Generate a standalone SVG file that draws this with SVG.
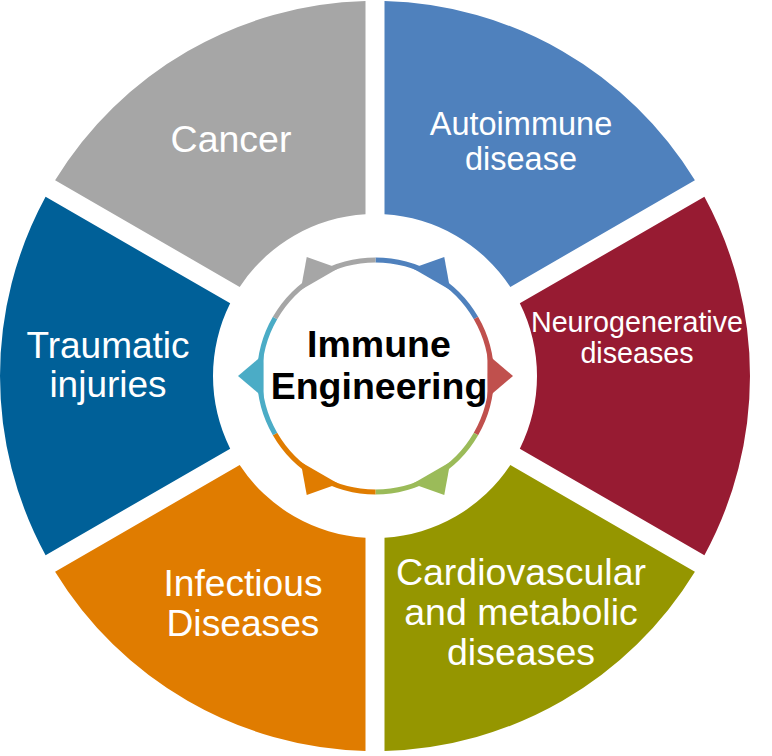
<svg xmlns="http://www.w3.org/2000/svg" width="772" height="756" viewBox="0 0 772 756">
<style>
.lbl{font-family:"Liberation Sans",Arial,sans-serif;fill:#ffffff;text-anchor:middle}
.ctr{font-family:"Liberation Sans",Arial,sans-serif;fill:#000000;font-weight:bold;text-anchor:middle;font-size:37.5px}
.ring{fill:none;stroke-width:5}
</style>
<rect width="772" height="756" fill="#ffffff"/>
<g id="autoimmune">
<path d="M384.5,1.12 A375,375 0 0 1 694.9,180.32 L510.31,286.9 A162,162 0 0 0 384.5,214.28 Z" fill="#4F81BD"/>
<text class="lbl" font-size="32.5" x="521" y="135">Autoimmune</text>
<text class="lbl" font-size="32.5" x="521" y="170">disease</text>
</g>
<g id="neurogenerative">
<path d="M704.4,196.79 A375,375 0 0 1 704.4,555.21 L519.81,448.63 A162,162 0 0 0 519.81,303.37 Z" fill="#971B32"/>
<text class="lbl" font-size="28.7" x="637" y="332">Neurogenerative</text>
<text class="lbl" font-size="28.7" x="637" y="363">diseases</text>
</g>
<g id="cardiovascular">
<path d="M694.9,571.68 A375,375 0 0 1 384.5,750.88 L384.5,537.72 A162,162 0 0 0 510.31,465.1 Z" fill="#959600"/>
<text class="lbl" font-size="37.5" x="521" y="585">Cardiovascular</text>
<text class="lbl" font-size="37.5" x="521" y="625">and metabolic</text>
<text class="lbl" font-size="37.5" x="521" y="665">diseases</text>
</g>
<g id="infectious">
<path d="M365.5,750.88 A375,375 0 0 1 55.1,571.68 L239.69,465.1 A162,162 0 0 0 365.5,537.72 Z" fill="#E07C00"/>
<text class="lbl" font-size="37.2" x="243" y="596">Infectious</text>
<text class="lbl" font-size="37.2" x="243" y="636">Diseases</text>
</g>
<g id="traumatic">
<path d="M45.6,555.21 A375,375 0 0 1 45.6,196.79 L230.19,303.37 A162,162 0 0 0 230.19,448.63 Z" fill="#006098"/>
<text class="lbl" font-size="37" x="108" y="358">Traumatic</text>
<text class="lbl" font-size="37" x="108" y="397">injuries</text>
</g>
<g id="cancer">
<path d="M55.1,180.32 A375,375 0 0 1 365.5,1.12 L365.5,214.28 A162,162 0 0 0 239.69,286.9 Z" fill="#A6A6A6"/>
<text class="lbl" font-size="37.5" x="231" y="152">Cancer</text>
</g>
<g id="connectors">
<path class="ring" stroke="#4F81BD" d="M375.5,260 A116,116 0 0 1 475.96,318"/>
<polygon fill="#4F81BD" points="444.25,256.92 450.29,289.96 412.62,268.21"/>
<path class="ring" stroke="#C0504D" d="M475.96,318 A116,116 0 0 1 475.96,434"/>
<polygon fill="#C0504D" points="513,376 487.41,397.75 487.41,354.25"/>
<path class="ring" stroke="#9BBB59" d="M475.96,434 A116,116 0 0 1 375.5,492"/>
<polygon fill="#9BBB59" points="444.25,495.08 412.62,483.79 450.29,462.04"/>
<path class="ring" stroke="#E07C00" d="M375.5,492 A116,116 0 0 1 275.04,434"/>
<polygon fill="#E07C00" points="306.75,495.08 300.71,462.04 338.38,483.79"/>
<path class="ring" stroke="#4BACC6" d="M275.04,434 A116,116 0 0 1 275.04,318"/>
<polygon fill="#4BACC6" points="238,376 263.59,354.25 263.59,397.75"/>
<path class="ring" stroke="#A6A6A6" d="M275.04,318 A116,116 0 0 1 375.5,260"/>
<polygon fill="#A6A6A6" points="306.75,256.92 338.38,268.21 300.71,289.96"/>
</g>
<g id="center">
<text class="ctr" x="379" y="356.7">Immune</text>
<text class="ctr" x="379" y="399.3">Engineering</text>
</g>
</svg>
